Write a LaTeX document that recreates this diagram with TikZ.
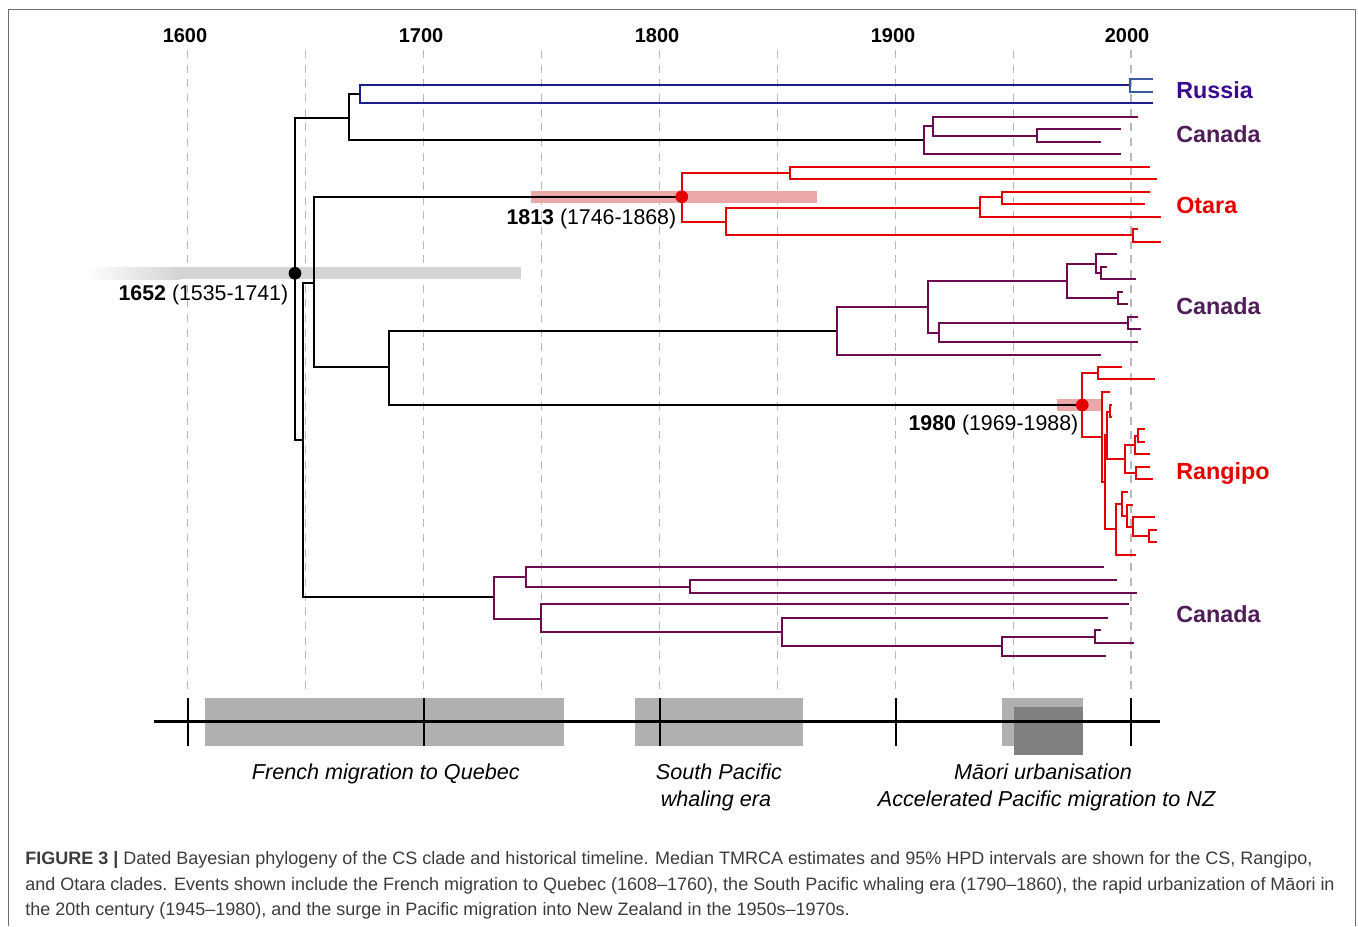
\documentclass[tikz,border=0pt]{standalone}
\usepackage{fontspec}
\setmainfont{Liberation Sans}
\usepackage{tikz}

\begin{document}
\begin{tikzpicture}[x=0.75pt,y=0.75pt,yscale=-1,xscale=1,
  grid/.style={color={rgb, 255:red, 185; green, 185; blue, 185 }, line width=0.9, dash pattern=on 6pt off 5pt},
  blk/.style={line width=1.5},
  rus/.style={color={rgb, 255:red, 30; green, 30; blue, 140 }, line width=1.5},
  rusb/.style={color={rgb, 255:red, 60; green, 90; blue, 160 }, line width=1.5},
  can/.style={color={rgb, 255:red, 110; green, 10; blue, 80 }, line width=1.5},
  nzr/.style={color={rgb, 255:red, 228; green, 0; blue, 0 }, line width=1.5},
  dot/.style={circle, inner sep=0pt, minimum size=9.5pt},
  yr/.style={anchor=base, inner sep=0.75pt, font=\fontsize{15}{18}\selectfont\bfseries},
  clade/.style={anchor=base west, inner sep=0.75pt, font=\fontsize{17.5}{21}\selectfont\bfseries},
  hpd/.style={anchor=base east, inner sep=0.75pt, font=\fontsize{16}{19}\selectfont},
  event/.style={anchor=base, inner sep=0.75pt, font=\fontsize{16.2}{19}\selectfont\itshape},
  captxt/.style={anchor=base west, inner sep=0pt, font=\fontsize{13.5}{16}\selectfont, text={rgb, 255:red, 60; green, 60; blue, 60 }}
]
\useasboundingbox (0,0) rectangle (1358,926);

%Frame
\draw [color={rgb, 255:red, 110; green, 110; blue, 110 }, line width=0.75] (8.3,926) -- (8.3,9) -- (1355,9) -- (1355,926) ;

%Dashed grid lines
\draw [grid] (187.5,50) -- (187.5,692) ;
\draw [grid] (305.5,50) -- (305.5,692) ;
\draw [grid] (423.5,50) -- (423.5,692) ;
\draw [grid] (541.5,50) -- (541.5,692) ;
\draw [grid] (659.5,50) -- (659.5,692) ;
\draw [grid] (777.5,50) -- (777.5,692) ;
\draw [grid] (895.5,50) -- (895.5,692) ;
\draw [grid] (1013.5,50) -- (1013.5,692) ;
\draw [grid] (1131,50) -- (1131,692) ;

%HPD bars
\shade [left color=white, right color=black!17] (86,267.3) rectangle (180,279.3) ;
\fill [black!17] (180,267.3) rectangle (520.7,279.3) ;
\fill [color={rgb, 255:red, 234; green, 168; blue, 168 }] (530.9,190.7) rectangle (817.3,202.7) ;
\fill [color={rgb, 255:red, 234; green, 168; blue, 168 }] (1057.3,399) rectangle (1103.3,411) ;

\coordinate (csnode) at (295,273.3) ;
\coordinate (otnode) at (681.8,196.7) ;
\coordinate (rgnode) at (1082.3,405) ;

%Backbone
\draw [blk] (348.9,117.7) -- (295,117.7) -- (295,440) -- (302.7,440) ;
\draw [blk] (314.3,283.3) -- (302.7,283.3) -- (302.7,597.3) -- (494.1,597.3) ;
\draw [blk] (360.4,94.3) -- (348.9,94.3) -- (348.9,140) -- (924,140) ;
\draw [blk] (otnode) -- (314.3,196.7) -- (314.3,367.3) -- (389,367.3) ;
\draw [blk] (836.7,330.7) -- (389,330.7) -- (389,405) -- (rgnode) ;

%Russia
\draw [rus] (1129.6,85) -- (360.4,85) -- (360.4,103.3) -- (1152.6,103.3) ;
\draw [rusb] (1152.6,79) -- (1129.6,79) -- (1129.6,92.3) -- (1152.6,92.3) ;

%Canada top
\draw [can] (932.7,125.7) -- (924,125.7) -- (924,154.3) -- (1121,154.3) ;
\draw [can] (1138,116.7) -- (932.7,116.7) -- (932.7,136) -- (1036.6,136) ;
\draw [can] (1121,129.3) -- (1036.6,129.3) -- (1036.6,141.7) -- (1100.9,141.7) ;

%Otara
\draw [nzr] (789.8,173.3) -- (681.8,173.3) -- (681.8,221.7) -- (725.5,221.7) ;
\draw [nzr] (1149.7,166.7) -- (789.8,166.7) -- (789.8,179) -- (1157,179) ;
\draw [nzr] (980.3,208.3) -- (725.5,208.3) -- (725.5,235) -- (1132.5,235) ;
\draw [nzr] (1002.2,196.7) -- (980.3,196.7) -- (980.3,216.7) -- (1161.2,216.7) ;
\draw [nzr] (1149.7,191.7) -- (1002.2,191.7) -- (1002.2,204) -- (1145,204) ;
\draw [nzr] (1138,229.3) -- (1132.5,229.3) -- (1132.5,241.7) -- (1161,241.7) ;

%Canada middle
\draw [can] (927.7,306.7) -- (836.7,306.7) -- (836.7,355) -- (1100.7,355) ;
\draw [can] (1066.7,281) -- (927.7,281) -- (927.7,332.7) -- (939,332.7) ;
\draw [can] (1095.7,264) -- (1066.7,264) -- (1066.7,298.3) -- (1118.3,298.3) ;
\draw [can] (1117.3,254) -- (1095.7,254) -- (1095.7,272.7) -- (1101,272.7) ;
\draw [can] (1107.3,266.7) -- (1101,266.7) -- (1101,279.3) -- (1136,279.3) ;
\draw [can] (1123.3,291.7) -- (1118.3,291.7) -- (1118.3,304.3) -- (1128.3,304.3) ;
\draw [can] (1128.3,323.3) -- (939,323.3) -- (939,342.3) -- (1138.3,342.3) ;
\draw [can] (1138.3,317.3) -- (1128.3,317.3) -- (1128.3,329.3) -- (1140.7,329.3) ;

%Rangipo
\draw [nzr] (1098.3,373.3) -- (1082.3,373.3) -- (1082.3,437.3) -- (1101.7,437.3) ;
\draw [nzr] (1121.7,366.7) -- (1098.3,366.7) -- (1098.3,379) -- (1155,379) ;
\draw [nzr] (1110,392.3) -- (1101.7,392.3) -- (1101.7,482.3) -- (1105,482.3) ;
\draw [nzr] (1106.7,435) -- (1105,435) -- (1105,529.3) -- (1116,529.3) ;
\draw [nzr] (1110,411.7) -- (1106.7,411.7) -- (1106.7,459.3) -- (1125,459.3) ;
\draw [nzr] (1112,405) -- (1110,405) -- (1110,416.7) -- (1112,416.7) ;
\draw [nzr] (1135,445) -- (1125,445) -- (1125,473.3) -- (1136,473.3) ;
\draw [nzr] (1138.3,436) -- (1135,436) -- (1135,454) -- (1150,454) ;
\draw [nzr] (1145,429.3) -- (1138.3,429.3) -- (1138.3,442) -- (1145,442) ;
\draw [nzr] (1150,467.3) -- (1136,467.3) -- (1136,479.3) -- (1152.7,479.3) ;
\draw [nzr] (1122.3,504) -- (1116,504) -- (1116,555) -- (1135.7,555) ;
\draw [nzr] (1128.3,492.3) -- (1122.3,492.3) -- (1122.3,516) -- (1127.3,516) ;
\draw [nzr] (1132.7,505) -- (1127.3,505) -- (1127.3,526.7) -- (1133.3,526.7) ;
\draw [nzr] (1155,516.7) -- (1133.3,516.7) -- (1133.3,535.7) -- (1149.3,535.7) ;
\draw [nzr] (1156.7,530) -- (1149.3,530) -- (1149.3,542.3) -- (1156.7,542.3) ;

%Canada bottom
\draw [can] (525.7,576.7) -- (494.1,576.7) -- (494.1,619) -- (541.2,619) ;
\draw [can] (1103.8,566.7) -- (525.7,566.7) -- (525.7,586.7) -- (690.4,586.7) ;
\draw [can] (1117,580) -- (690.4,580) -- (690.4,592.7) -- (1136.5,592.7) ;
\draw [can] (1128.5,604.3) -- (541.2,604.3) -- (541.2,631.7) -- (782.3,631.7) ;
\draw [can] (1108.4,617.7) -- (782.3,617.7) -- (782.3,646) -- (1001.6,646) ;
\draw [can] (1095.2,636.7) -- (1001.6,636.7) -- (1001.6,655.7) -- (1105.5,655.7) ;
\draw [can] (1100.9,630) -- (1095.2,630) -- (1095.2,643.3) -- (1134.2,643.3) ;

%Dated nodes
\draw (csnode) node (csdot) [dot, fill=black] {} ;
\draw (otnode) node (otdot) [dot, fill={rgb, 255:red, 228; green, 0; blue, 0 }] {} ;
\draw (rgnode) node (rgdot) [dot, fill={rgb, 255:red, 228; green, 0; blue, 0 }] {} ;

% Text Node
\draw (289.5,300) node (cslbl) [hpd] {\textbf{1652} (1535-1741)};
% Text Node
\draw (677.5,224.5) node (otlbl) [hpd] {\textbf{1813} (1746-1868)};
% Text Node
\draw (1079.5,430.7) node (rglbl) [hpd] {\textbf{1980} (1969-1988)};

% Year labels
\draw (185,42.7) node (y1600) [yr] {1600};
\draw (421,42.7) node (y1700) [yr] {1700};
\draw (657,42.7) node (y1800) [yr] {1800};
\draw (893,42.7) node (y1900) [yr] {1900};
\draw (1127,42.7) node (y2000) [yr] {2000};

% Clade labels
\draw (1175,98) node (lrus) [clade, text={rgb, 255:red, 58; green, 12; blue, 140 }] {Russia};
\draw (1175,142.7) node (lcan1) [clade, text={rgb, 255:red, 78; green, 30; blue, 88 }] {Canada};
\draw (1175,213) node (lota) [clade, text={rgb, 255:red, 228; green, 0; blue, 0 }] {Otara};
\draw (1175,314.5) node (lcan2) [clade, text={rgb, 255:red, 78; green, 30; blue, 88 }] {Canada};
\draw (1175,479) node (lrang) [clade, text={rgb, 255:red, 228; green, 0; blue, 0 }] {Rangipo};
\draw (1175,622) node (lcan3) [clade, text={rgb, 255:red, 78; green, 30; blue, 88 }] {Canada};

%Timeline
\fill [black!31] (205.3,697.7) rectangle (563.5,745.7) ;
\fill [black!31] (635,697.7) rectangle (803,745.7) ;
\fill [black!31] (1001.7,697.7) rectangle (1083,745.7) ;
\fill [black!50] (1013.6,707.3) rectangle (1083,755) ;
\draw [line width=2] (154,721.5) -- (1159.6,721.5) ;
\draw [line width=1.5] (187.5,698.3) -- (187.5,745.7) ;
\draw [line width=1.5] (423.5,698.3) -- (423.5,745.7) ;
\draw [line width=1.5] (659.5,698.3) -- (659.5,745.7) ;
\draw [line width=1.5] (895.5,698.3) -- (895.5,745.7) ;
\draw [line width=1.5] (1131,698.3) -- (1131,745.7) ;

% Event labels
\draw (385.8,779) node (efr) [event] {French migration to Quebec};
\draw (719,779) node (esp1) [event] {South Pacific};
\draw (716,806) node (esp2) [event] {whaling era};
\draw (1043,779) node (emao) [event] {Māori urbanisation};
\draw (1046.6,806) node (eacc) [event] {Accelerated Pacific migration to NZ};

% Caption
\draw (25,864) node (cap1) [captxt] {\textbf{FIGURE 3 |} Dated Bayesian phylogeny of the CS clade and historical timeline. Median TMRCA estimates and 95\% HPD intervals are shown for the CS, Rangipo,};
\draw (25,890) node (cap2) [captxt] {and Otara clades. Events shown include the French migration to Quebec (1608–1760), the South Pacific whaling era (1790–1860), the rapid urbanization of Māori in};
\draw (25,915.5) node (cap3) [captxt] {the 20th century (1945–1980), and the surge in Pacific migration into New Zealand in the 1950s–1970s.};

\end{tikzpicture}
\end{document}
